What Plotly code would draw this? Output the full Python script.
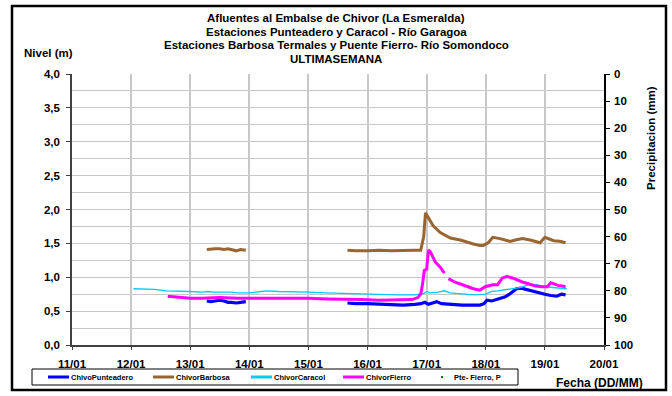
import plotly.graph_objects as go

# Time axis: day of January (fractional days)
day_ticks = [11, 12, 13, 14, 15, 16, 17, 18, 19, 20]
day_labels = ["11/01", "12/01", "13/01", "14/01", "15/01",
              "16/01", "17/01", "18/01", "19/01", "20/01"]
level_ticks = [0.0, 0.5, 1.0, 1.5, 2.0, 2.5, 3.0, 3.5, 4.0]
level_labels = ["0,0", "0,5", "1,0", "1,5", "2,0", "2,5", "3,0", "3,5", "4,0"]
precip_ticks = [0, 10, 20, 30, 40, 50, 60, 70, 80, 90, 100]

# ChivoPunteadero (level, m) - two recorded stretches separated by a gap
punteadero_t = [13.28, 13.35, 13.42, 13.5, 13.57, 13.64, 13.7, 13.78, 13.85, 13.94, None,
                15.66, 15.8, 16.0, 16.2, 16.4, 16.6, 16.8, 16.9, 16.97, 17.03, 17.1, 17.17,
                17.25, 17.4, 17.6, 17.8, 17.9, 17.97, 18.02, 18.1, 18.2, 18.33, 18.4, 18.45,
                18.52, 18.6, 18.72, 18.8, 18.87, 18.95, 19.0, 19.1, 19.2, 19.28, 19.35]
punteadero_v = [0.65, 0.64, 0.65, 0.66, 0.65, 0.63, 0.63, 0.62, 0.63, 0.64, None,
                0.62, 0.61, 0.61, 0.60, 0.59, 0.59, 0.60, 0.61, 0.63, 0.60, 0.62, 0.64,
                0.61, 0.60, 0.59, 0.59, 0.59, 0.61, 0.66, 0.65, 0.68, 0.71, 0.75, 0.78,
                0.83, 0.84, 0.81, 0.79, 0.78, 0.76, 0.75, 0.73, 0.72, 0.75, 0.74]

# ChivorBarbosa (level, m)
barbosa_t = [13.28, 13.35, 13.42, 13.5, 13.57, 13.64, 13.7, 13.78, 13.85, 13.94, None,
             15.66, 15.8, 16.0, 16.2, 16.4, 16.6, 16.8, 16.9, 16.95, 16.98, 17.03, 17.11,
             17.23, 17.4, 17.57, 17.7, 17.79, 17.9, 17.96, 18.04, 18.12, 18.24, 18.41,
             18.5, 18.62, 18.75, 18.92, 19.0, 19.08, 19.15, 19.25, 19.35]
barbosa_v = [1.41, 1.42, 1.42, 1.42, 1.41, 1.42, 1.41, 1.39, 1.41, 1.40, None,
             1.40, 1.39, 1.39, 1.40, 1.39, 1.40, 1.40, 1.40, 1.60, 1.95, 1.88, 1.76,
             1.66, 1.58, 1.55, 1.51, 1.49, 1.47, 1.47, 1.51, 1.59, 1.57, 1.53,
             1.55, 1.57, 1.55, 1.51, 1.59, 1.56, 1.54, 1.53, 1.51]

# ChivorCaracol (level, m)
caracol_t = [12.04, 12.2, 12.4, 12.6, 12.8, 13.0, 13.2, 13.3, 13.4, 13.5, 13.6, 13.7,
             13.8, 14.0, 14.2, 14.3, 14.5, 14.7, 15.0, 15.3, 15.6, 15.9, 16.2, 16.5,
             16.8, 16.95, 17.0, 17.05, 17.2, 17.3, 17.4, 17.6, 17.8, 18.0, 18.1, 18.2,
             18.4, 18.6, 18.75, 18.85, 19.0, 19.1, 19.2, 19.37]
caracol_v = [0.83, 0.83, 0.82, 0.80, 0.80, 0.79, 0.78, 0.79, 0.78, 0.78, 0.79, 0.78,
             0.77, 0.77, 0.79, 0.80, 0.79, 0.79, 0.78, 0.77, 0.76, 0.75, 0.74, 0.74,
             0.74, 0.76, 0.79, 0.77, 0.78, 0.80, 0.77, 0.76, 0.74, 0.75, 0.79, 0.80,
             0.82, 0.85, 0.90, 0.89, 0.86, 0.85, 0.84, 0.83]

# ChivorFierro (level, m)
fierro_t = [12.62, 12.8, 13.0, 13.2, 13.5, 13.8, 14.0, 14.3, 14.6, 15.0, 15.3, 15.6,
            15.9, 16.2, 16.5, 16.75, 16.85, 16.9, 16.93, 16.96, 17.0, 17.03, 17.06,
            17.1, 17.15, 17.23, 17.3, None, 17.37, 17.47, 17.57, 17.68, 17.79, 17.9,
            17.99, 18.12, 18.2, 18.28, 18.36, 18.45, 18.5, 18.62, 18.73, 18.84, 18.95,
            19.04, 19.1, 19.16, 19.22, 19.3, 19.35]
fierro_v = [0.72, 0.71, 0.69, 0.69, 0.70, 0.69, 0.69, 0.70, 0.70, 0.69, 0.68, 0.68,
            0.67, 0.66, 0.66, 0.67, 0.70, 0.75, 0.90, 1.10, 1.12, 1.40, 1.38,
            1.30, 1.22, 1.15, 1.06, None, 0.98, 0.93, 0.90, 0.86, 0.83, 0.81,
            0.86, 0.89, 0.89, 0.99, 1.01, 0.99, 0.97, 0.93, 0.90, 0.87, 0.86,
            0.86, 0.92, 0.90, 0.88, 0.87, 0.86]

# Pte-Fierro precipitation (mm): no rainfall recorded in the week
precip_t = []
precip_v = []

series_names = ["ChivoPunteadero", "ChivorBarbosa", "ChivorCaracol", "ChivorFierro", "Pte- Fierro, P"]
series_colors = ["#0000ff", "#996633", "#00ccff", "#ff00ff", "#008000"]
series_widths = [3.2, 3, 1.3, 3, 0]

W, H = 672, 396
ML, MR, MT, MB = 72, 68, 74, 51
PW, PH = W - ML - MR, H - MT - MB


def px_x(p):
    return (p - ML) / PW


def px_y(p):
    return (H - MB - p) / PH


def bold(labels):
    return ["<b>%s</b>" % s for s in labels]


FONT = "Liberation Sans, Arial, sans-serif"

fig = go.Figure()
level_series = [(punteadero_t, punteadero_v), (barbosa_t, barbosa_v),
                (caracol_t, caracol_v), (fierro_t, fierro_v)]
for (t, v), name, color, width in zip(level_series, series_names, series_colors, series_widths):
    fig.add_trace(go.Scatter(x=t, y=v, name=name, mode="lines", showlegend=False,
                             line=dict(color=color, width=width)))
fig.add_trace(go.Scatter(x=precip_t, y=precip_v, name=series_names[4], yaxis="y2",
                         mode="markers", showlegend=False,
                         marker=dict(color=series_colors[4], size=3)))

tickfont = dict(family=FONT, size=11.5, color="black", weight="bold")

fig.update_layout(
    width=W, height=H,
    margin=dict(l=ML, r=MR, t=MT, b=MB, autoexpand=False),
    paper_bgcolor="white", plot_bgcolor="white",
    font=dict(family=FONT, color="black"),
    showlegend=False,
    xaxis=dict(range=[11, 20], tickvals=day_ticks, ticktext=bold(day_labels),
               showgrid=True, gridcolor="#c8c8c8", gridwidth=1.5,
               showline=True, linecolor="#404040", linewidth=1.5,
               ticks="outside", ticklen=3, tickcolor="#404040",
               ticklabelstandoff=4,
               tickfont=tickfont, zeroline=False),
    yaxis=dict(range=[0, 4], tickvals=level_ticks, ticktext=bold(level_labels),
               showgrid=True, gridcolor="#c8c8c8", gridwidth=1,
               minor=dict(dtick=0.25, showgrid=True, gridcolor="#c8c8c8", gridwidth=1),
               showline=True, linecolor="#404040", linewidth=1.5,
               ticks="outside", ticklen=4, tickcolor="#404040",
               ticklabelstandoff=4,
               tickfont=tickfont, zeroline=False),
    yaxis2=dict(range=[100, 0], tickvals=precip_ticks,
                ticktext=bold([str(v) for v in precip_ticks]),
                overlaying="y", side="right",
                showgrid=False, showline=True, linecolor="black", linewidth=1.5,
                ticks="outside", ticklen=4, tickcolor="black",
                ticklabelstandoff=2,
                tickfont=tickfont, zeroline=False),
)

title_lines = ["Afluentes al Embalse de Chivor (La Esmeralda)",
               "Estaciones Punteadero y Caracol - Río Garagoa",
               "Estaciones Barbosa Termales y Puente Fierro- Río Somondoco",
               "ULTIMASEMANA"]
for i, line in enumerate(title_lines):
    fig.add_annotation(text="<b>%s</b>" % line, x=px_x(336), y=px_y(18 + 13.5 * i),
                       xref="paper", yref="paper", showarrow=False,
                       xanchor="center", yanchor="middle",
                       font=dict(family=FONT, size=11.5, color="black"))

fig.add_annotation(text="<b>Nivel (m)</b>", x=px_x(22), y=px_y(53), xref="paper", yref="paper",
                   showarrow=False, xanchor="left", yanchor="middle",
                   font=dict(family=FONT, size=11.5, color="black"))
fig.add_annotation(text="<b>Precipitacion (mm)</b>", x=px_x(651), y=px_y(138),
                   xref="paper", yref="paper", showarrow=False,
                   xanchor="center", yanchor="middle", textangle=-90,
                   font=dict(family=FONT, size=11.5, color="black"))
fig.add_annotation(text="<b>Fecha (DD/MM)</b>", x=px_x(599), y=px_y(383),
                   xref="paper", yref="paper", showarrow=False,
                   xanchor="center", yanchor="middle",
                   font=dict(family=FONT, size=12, color="black"))

# Legend box below the plot
fig.add_shape(type="rect", xref="paper", yref="paper",
              x0=px_x(32), x1=px_x(518), y0=px_y(385), y1=px_y(369),
              line=dict(color="black", width=1), fillcolor="white")
legend_x = [48, 153, 251, 343, 442]
legend_y = 377
for lx, name, color, width in zip(legend_x, series_names, series_colors, series_widths):
    if width > 0:
        fig.add_shape(type="line", xref="paper", yref="paper",
                      x0=px_x(lx), x1=px_x(lx + 21), y0=px_y(legend_y), y1=px_y(legend_y),
                      line=dict(color=color, width=3))
        tx = lx + 21
    else:
        fig.add_shape(type="rect", xref="paper", yref="paper",
                      x0=px_x(lx - 1), x1=px_x(lx + 1), y0=px_y(legend_y + 1), y1=px_y(legend_y - 1),
                      line=dict(width=0), fillcolor=color)
        tx = lx + 10
    fig.add_annotation(text="<b>%s</b>" % name, x=px_x(tx), y=px_y(legend_y),
                       xref="paper", yref="paper", showarrow=False,
                       xanchor="left", yanchor="middle",
                       font=dict(family=FONT, size=7.5, color="black"))

# Outer frame of the chart
fig.add_shape(type="rect", xref="paper", yref="paper",
              x0=px_x(12), x1=px_x(666), y0=px_y(390), y1=px_y(6),
              line=dict(color="black", width=2.5), layer="above")

fig.write_html("out.html")
